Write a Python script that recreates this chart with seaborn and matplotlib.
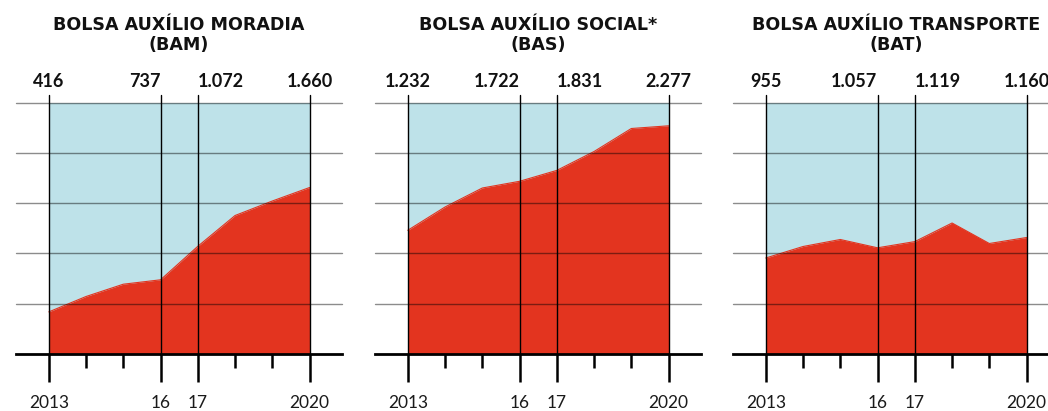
import numpy as np
import pandas as pd
import matplotlib
matplotlib.use("Agg")
import matplotlib.pyplot as plt
import seaborn as sns

# Beneficiaries per year for each grant
years = [2013, 2014, 2015, 2016, 2017, 2018, 2019, 2020]
bam = [416, 570, 693, 737, 1072, 1380, 1525, 1660]
bas = [1232, 1465, 1655, 1722, 1831, 2020, 2250, 2277]
bat = [955, 1070, 1140, 1057, 1119, 1305, 1100, 1160]

titles = [
    ("BOLSA AUXÍLIO MORADIA", "(BAM)"),
    ("BOLSA AUXÍLIO SOCIAL*", "(BAS)"),
    ("BOLSA AUXÍLIO TRANSPORTE", "(BAT)"),
]
marked_years = [2013, 2016, 2017, 2020]
year_labels = ["2013", "16", "17", "2020"]
value_align = ["center", "right", "left", "center"]

df = pd.DataFrame({
    "ano": years * 3,
    "valor": bam + bas + bat,
    "bolsa": ["BAM"] * 8 + ["BAS"] * 8 + ["BAT"] * 8,
})

RED = "#e3341f"
BLUE = "#bee2e9"
GRID = (0, 0, 0, 0.45)
INK = "#111111"

sns.set_theme(style="white")
plt.rcParams["font.family"] = ["Lato", "DejaVu Sans"]

W, H = 1048, 411
fig = plt.figure(figsize=(W / 100, H / 100), dpi=100)

lefts = [16, 375, 733]
ax_w, ax_h, ax_bottom = 326, 250, 57.5
XMIN, XMAX = 2012.12, 2020.87
YMAX = 2500
BASE_PX = H - ax_bottom  # pixel row of the baseline, from the top


def px_to_data(py):
    """Row in pixels from the top -> value on the y scale."""
    return (BASE_PX - py) * YMAX / ax_h


def fmt(v):
    return f"{v:,}".replace(",", ".")


for i, (key, (t1, t2)) in enumerate(zip(["BAM", "BAS", "BAT"], titles)):
    ax = fig.add_axes([lefts[i] / W, ax_bottom / H, ax_w / W, ax_h / H])
    sub = df[df["bolsa"] == key]

    # light background band covering the period
    ax.fill_between([years[0], years[-1]], 0, YMAX, color=BLUE, lw=0, zorder=1)
    # red area
    ax.fill_between(sub["ano"], 0, sub["valor"], color=RED, lw=0, zorder=2)
    sns.lineplot(data=sub, x="ano", y="valor", ax=ax, color=RED, lw=0.8, zorder=2)

    # horizontal guide lines
    for g in range(500, YMAX + 1, 500):
        ax.axhline(g, color=GRID, lw=1.0, zorder=3, clip_on=False)

    # vertical markers for highlighted years
    for yr in marked_years:
        ax.plot([yr, yr], [0, YMAX + 85], color="black", lw=1.0, zorder=4, clip_on=False)

    ax.set_xlim(XMIN, XMAX)
    ax.set_ylim(0, YMAX)
    ax.set_xlabel("")
    ax.set_ylabel("")
    ax.set_yticks([])
    for s in ["top", "left", "right"]:
        ax.spines[s].set_visible(False)
    ax.spines["bottom"].set_color("black")
    ax.spines["bottom"].set_linewidth(2.0)
    ax.spines["bottom"].set_zorder(5)

    ax.set_xticks(marked_years)
    ax.set_xticklabels([])
    ax.set_xticks([y for y in years if y not in marked_years], minor=True)
    ax.tick_params(axis="x", which="major", direction="out", length=20, width=1.8,
                   color="black", bottom=True)
    ax.tick_params(axis="x", which="minor", direction="out", length=10, width=1.8,
                   color="black", bottom=True)

    # year labels under the axis
    for yr, lab in zip(marked_years, year_labels):
        ax.text(yr, px_to_data(408), lab, ha="center", va="baseline",
                fontsize=12.5, color="#1a1a1a", clip_on=False)

    # values above the highlighted years
    vals = sub.set_index("ano")["valor"]
    for yr, ha in zip(marked_years, value_align):
        ax.text(yr, px_to_data(87.5), fmt(vals[yr]), ha=ha, va="baseline",
                fontsize=13, fontweight="bold", color=INK, clip_on=False)

    # two-line title
    ax.text(0.5, px_to_data(30) / YMAX, t1, transform=ax.transAxes,
            ha="center", va="baseline", fontsize=12.6, fontweight="bold",
            color=INK, family="DejaVu Sans")
    ax.text(0.5, px_to_data(50) / YMAX, t2, transform=ax.transAxes,
            ha="center", va="baseline", fontsize=12.6, fontweight="bold",
            color=INK, family="DejaVu Sans")

fig.savefig("out.png", dpi=100)
